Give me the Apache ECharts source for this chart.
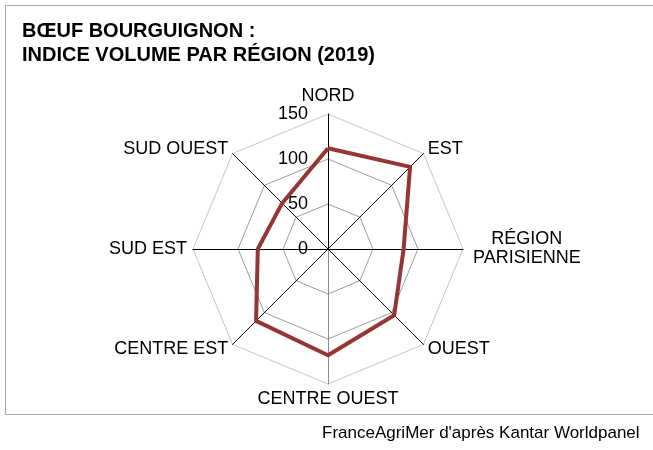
<!DOCTYPE html>
<html>
<head>
<meta charset="utf-8">
<script src="https://cdn.jsdelivr.net/npm/echarts@6/dist/echarts.min.js"></script>
<style>
  html, body { margin: 0; padding: 0; background: #fff; }
  #chart { width: 653px; height: 450px; }
</style>
</head>
<body>
<div id="chart"></div>
<script>
// régions dans l'ordre du graphique (sens horaire depuis le haut)
var regions = ['NORD', 'EST', 'RÉGION\nPARISIENNE', 'OUEST', 'CENTRE OUEST', 'CENTRE EST', 'SUD EST', 'SUD OUEST']
var indiceVolume = [112, 129, 84, 104, 118, 113, 78, 72]
var tickLabels = [0, 50, 100, 150]

var titleText = 'BŒUF BOURGUIGNON :\nINDICE VOLUME PAR RÉGION (2019)'
var sourceText = "FranceAgriMer d'après Kantar Worldpanel"

var font = '"Liberation Sans", Arial, sans-serif'

// echarts place les axes du radar dans le sens anti-horaire
function clockwise(arr) {
  return [arr[0]].concat(arr.slice(1).reverse())
}

var maxVal = tickLabels[tickLabels.length - 1]
var indicators = clockwise(regions).map(function (name, i) {
  var ind = { name: name, min: 0, max: maxVal }
  if (i === 0) {
    ind.axisLabel = { show: true }
  }
  if (name === 'CENTRE OUEST') {
    ind.axisLine = { lineStyle: { color: '#8c8c8c' } }
  }
  return ind
})

var chart = echarts.init(document.getElementById('chart'))
chart.setOption({
  animation: false,
  title: [
    {
      text: titleText,
      left: 17,
      top: 14,
      textStyle: {
        fontFamily: font,
        fontSize: 20,
        fontWeight: 'bold',
        lineHeight: 24,
        color: '#000'
      }
    },
    {
      text: sourceText,
      left: 317,
      top: 420,
      textStyle: {
        fontFamily: font,
        fontSize: 17,
        fontWeight: 'normal',
        color: '#000'
      }
    }
  ],
  graphic: [
    {
      type: 'rect',
      shape: { x: 5.5, y: 5.5, width: 700, height: 409 },
      style: { fill: 'none', stroke: '#a6a6a6', lineWidth: 1 },
      silent: true
    }
  ],
  radar: {
    center: [328, 249],
    radius: 135,
    startAngle: 90,
    splitNumber: tickLabels.length - 1,
    shape: 'polygon',
    axisName: {
      color: '#000',
      fontFamily: font,
      fontSize: 18,
      formatter: function (name) {
        var st = name.indexOf('\n') >= 0 ? 'p' : 'c'
        return name.split('\n').map(function (s) { return '{' + st + '|' + s + '}' }).join('\n')
      },
      rich: {
        c: {
          align: 'center',
          color: '#000',
          fontFamily: font,
          fontSize: 18,
          lineHeight: 19
        },
        p: {
          align: 'center',
          color: '#000',
          fontFamily: font,
          fontSize: 18,
          lineHeight: 19,
          padding: [0, 0, 0, 4]
        }
      }
    },
    nameGap: 6,
    axisLine: { lineStyle: { color: '#000', width: 1 } },
    axisTick: { show: false },
    axisLabel: {
      show: false,
      margin: 20,
      color: '#000',
      fontFamily: font,
      fontSize: 18
    },
    splitLine: {
      lineStyle: {
        color: ['#9a9a9a', '#9a9a9a', '#9a9a9a', '#c4c4c4'],
        width: 1
      }
    },
    splitArea: { show: false },
    indicator: indicators
  },
  series: [
    {
      type: 'radar',
      symbol: 'none',
      lineStyle: { color: '#943634', width: 4 },
      data: [
        { value: clockwise(indiceVolume), name: 'Indice volume' }
      ]
    }
  ]
})
</script>
</body>
</html>
